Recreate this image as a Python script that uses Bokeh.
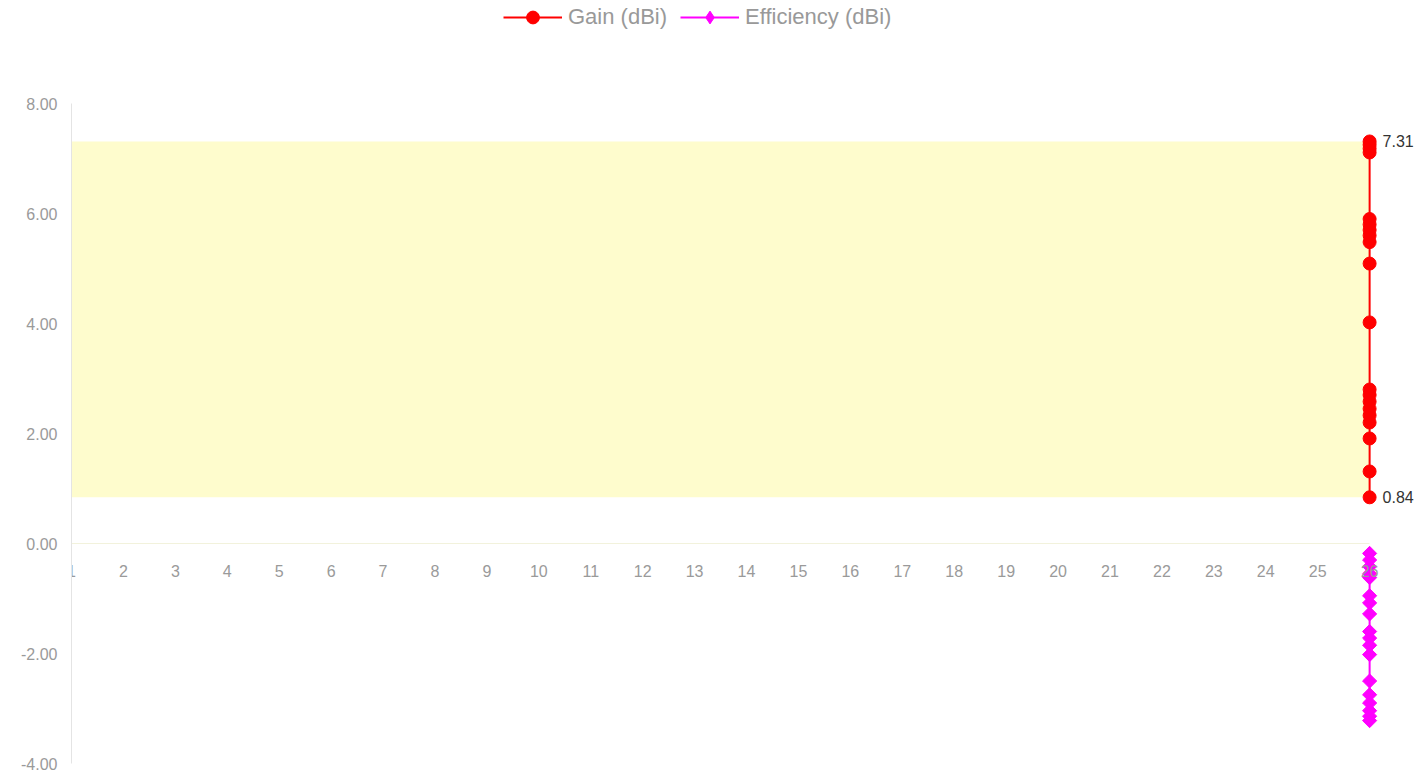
from bokeh.plotting import figure
from bokeh.models import FixedTicker, NumeralTickFormatter, BoxAnnotation, Legend, LegendItem, ColumnDataSource
from bokeh.core.properties import value
from bokeh.embed import file_html
from bokeh.resources import INLINE
import numpy as np

# ---- data ----
x_ticks = [1, 2, 3, 4, 5, 6, 7, 8, 9, 10, 11, 12, 13, 14, 15, 16, 17, 18, 19, 20, 21, 22, 23, 24, 25, 26]
y_ticks = [-4, -2, 0, 2, 4, 6, 8]

gain_x = [26, 26, 26, 26, 26, 26, 26, 26, 26, 26, 26, 26, 26, 26, 26, 26, 26, 26, 26, 26]
gain = [7.31, 7.25, 7.18, 7.11, 5.90, 5.80, 5.70, 5.60, 5.48, 5.09, 4.02,
        2.80, 2.70, 2.58, 2.45, 2.33, 2.20, 1.91, 1.31, 0.84]

eff_x = [26, 26, 26, 26, 26, 26, 26, 26, 26, 26, 26, 26, 26, 26, 26, 26, 26, 26]
efficiency = [-0.18, -0.30, -0.42, -0.55, -0.62, -0.95, -1.08, -1.28, -1.60,
              -1.72, -1.85, -2.02, -2.50, -2.75, -2.90, -3.04, -3.14, -3.22]

FONT = "Liberation Sans"

W, H = 1420, 775
p = figure(width=W, height=H, output_backend="svg", toolbar_location=None,
           x_range=(1, 26.98), y_range=(-4.218, 9.873),
           min_border_left=71, min_border_right=0, min_border_top=0, min_border_bottom=0)
p.outline_line_color = None
p.grid.visible = False
p.background_fill_color = "white"

# band between min and max gain
band = BoxAnnotation(left=min(x_ticks), right=max(x_ticks), bottom=min(gain), top=max(gain),
                     fill_color="#fefccd", fill_alpha=1.0, line_color=None, level="underlay")
p.add_layout(band)

# axes
xa = p.xaxis[0]
xa.fixed_location = 0
xa.ticker = FixedTicker(ticks=x_ticks)
xa.bounds = (min(x_ticks), max(x_ticks))
xa.axis_line_color = "#f2f2dc"
xa.axis_line_width = 1
xa.major_tick_line_color = None
xa.minor_tick_line_color = None
xa.major_tick_out = 0
xa.major_tick_in = 0
xa.major_label_standoff = 21
xa.major_label_text_font = FONT
xa.major_label_text_font_size = "16px"
xa.major_label_text_color = "#9a9a9a"

ya = p.yaxis[0]
ya.ticker = FixedTicker(ticks=y_ticks)
ya.bounds = (min(y_ticks), max(y_ticks))
ya.formatter = NumeralTickFormatter(format="0.00")
ya.axis_line_color = "#e4e4e4"
ya.major_tick_line_color = None
ya.minor_tick_line_color = None
ya.major_tick_out = 0
ya.major_tick_in = 0
ya.major_label_standoff = 14
ya.major_label_text_font = FONT
ya.major_label_text_font_size = "16px"
ya.major_label_text_color = "#9a9a9a"

# series
g_line = p.line(gain_x, gain, line_color="#ff0000", line_width=2)
g_pts = p.scatter(gain_x, gain, marker="circle", size=13, fill_color="#ff0000", line_color="#ff0000")
e_line = p.line(eff_x, efficiency, line_color="#ff00ff", line_width=2)
# diamond marker (used for the legend swatch; sits beneath the rotated squares)
e_leg = p.scatter(eff_x, efficiency, marker="diamond", size=13, fill_color="#ff00ff", line_color="#ff00ff")
e_pts = p.scatter(eff_x, efficiency, marker="square", angle=np.pi / 4, size=10,
                  fill_color="#ff00ff", line_color="#ff00ff")

# end labels
imax = gain.index(max(gain))
imin = gain.index(min(gain))
lab = ColumnDataSource(dict(x=[gain_x[imax], gain_x[imin]], y=[gain[imax], gain[imin]],
                            t=["%.2f" % gain[imax], "%.2f" % gain[imin]]))
p.text(x="x", y="y", text="t", source=lab, x_offset=13, text_align="left", text_baseline="middle",
       text_font=value(FONT), text_font_size="16px", text_color="#333333")

legend = Legend(items=[LegendItem(label="Gain (dBi)", renderers=[g_line, g_pts]),
                       LegendItem(label="Efficiency (dBi)", renderers=[e_line, e_leg])],
                orientation="horizontal")
legend.location = (432, H - 33)
legend.background_fill_alpha = 0
legend.border_line_alpha = 0
legend.label_text_font = FONT
legend.label_text_font_size = "22px"
legend.label_text_color = "#999999"
legend.glyph_width = 59
legend.glyph_height = 32
legend.spacing = 13
legend.padding = 0
legend.margin = 0
legend.label_standoff = 6
p.add_layout(legend, "center")

open("out.html", "w").write(file_html(p, INLINE))
